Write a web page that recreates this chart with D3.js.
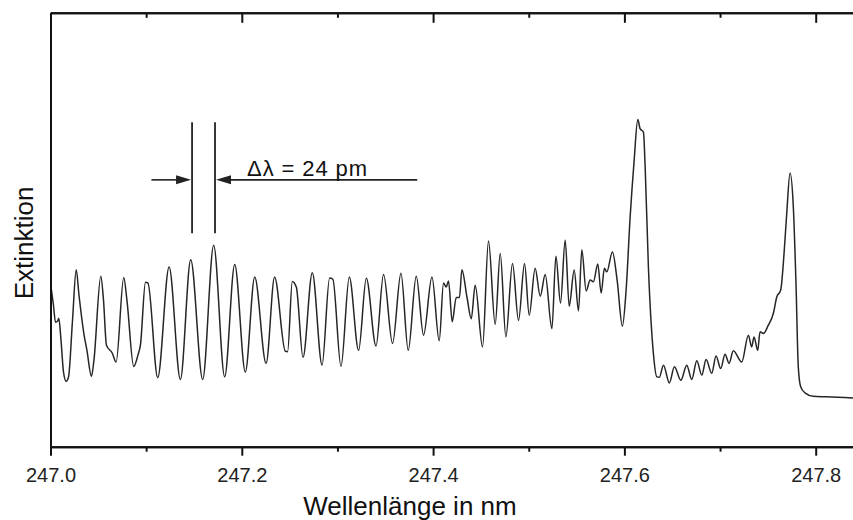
<!DOCTYPE html>
<html>
<head>
<meta charset="utf-8">
<script src="https://cdn.jsdelivr.net/npm/d3@7/dist/d3.min.js"></script>
<style>
  html, body { margin: 0; padding: 0; background: #fff; }
  svg { display: block; font-family: "Liberation Sans", Arial, Helvetica, sans-serif; }
</style>
</head>
<body>
<svg id="chart" width="853" height="520"></svg>
<script>
// Wavelength (nm) and extinction (arbitrary units)
const wavelength = [
  247.0003, 247.0031, 247.0052, 247.0073, 247.0087, 247.0110, 247.0136, 247.0164, 247.0188, 247.0230,
  247.0269, 247.0298, 247.0348, 247.0381, 247.0428, 247.0454, 247.0526, 247.0554, 247.0585, 247.0645,
  247.0686, 247.0766, 247.0799, 247.0870, 247.0914, 247.0940, 247.0993, 247.1019, 247.1121, 247.1240,
  247.1358, 247.1466, 247.1591, 247.1706, 247.1821, 247.1926, 247.2037, 247.2135, 247.2254, 247.2343,
  247.2455, 247.2479, 247.2528, 247.2570, 247.2640, 247.2737, 247.2839, 247.2918, 247.2952, 247.3037,
  247.3124, 247.3221, 247.3302, 247.3403, 247.3482, 247.3576, 247.3664, 247.3740, 247.3824, 247.3900,
  247.3988, 247.4064, 247.4109, 247.4137, 247.4161, 247.4200, 247.4242, 247.4276, 247.4301, 247.4354,
  247.4399, 247.4440, 247.4517, 247.4579, 247.4649, 247.4702, 247.4761, 247.4830, 247.4893, 247.4956,
  247.5005, 247.5067, 247.5120, 247.5172, 247.5242, 247.5284, 247.5332, 247.5381, 247.5423, 247.5475,
  247.5520, 247.5555, 247.5600, 247.5642, 247.5676, 247.5722, 247.5757, 247.5791, 247.5816, 247.5875,
  247.5924, 247.5979, 247.6018, 247.6060, 247.6102, 247.6140, 247.6164, 247.6199, 247.6217, 247.6251,
  247.6303, 247.6339, 247.6366, 247.6408, 247.6470, 247.6523, 247.6590, 247.6652, 247.6704, 247.6757,
  247.6809, 247.6854, 247.6913, 247.6958, 247.7007, 247.7052, 247.7094, 247.7139, 247.7227, 247.7296,
  247.7331, 247.7355, 247.7394, 247.7418, 247.7453, 247.7505, 247.7557, 247.7593, 247.7634, 247.7669,
  247.7697, 247.7732, 247.7766, 247.7794, 247.7818, 247.7843, 247.7888, 247.7975, 247.8115, 247.8390
];
const extinction = [
  37.2, 32.6, 28.7, 28.9, 29.6, 24.5, 17.2, 15.1, 16.0, 29.1,
  40.8, 34.9, 26.2, 22.2, 16.2, 19.9, 39.3, 33.8, 23.4, 21.6,
  19.5, 39.0, 33.8, 18.5, 21.1, 23.4, 37.9, 37.7, 15.9, 41.4,
  15.5, 43.1, 15.5, 46.4, 16.1, 42.0, 17.2, 39.1, 19.2, 39.1,
  22.0, 21.9, 38.1, 36.8, 20.6, 40.1, 18.8, 38.9, 38.6, 18.5,
  39.1, 22.2, 38.8, 23.2, 39.7, 23.8, 40.0, 22.2, 39.3, 25.7,
  39.1, 24.4, 37.7, 36.8, 38.2, 28.8, 34.4, 34.4, 40.8, 34.5,
  29.5, 37.2, 23.0, 47.4, 28.2, 44.5, 25.3, 42.2, 29.1, 42.2,
  30.3, 41.1, 34.7, 39.7, 27.2, 43.9, 33.1, 47.6, 32.4, 40.7,
  31.3, 45.4, 35.9, 38.4, 38.0, 42.1, 35.4, 41.1, 40.3, 44.9,
  38.4, 27.8, 36.1, 52.9, 66.0, 75.4, 73.3, 72.5, 64.5, 41.4,
  21.5, 16.1, 16.0, 18.8, 14.7, 18.4, 15.3, 18.8, 15.5, 19.8,
  16.5, 20.1, 16.9, 20.9, 18.0, 21.3, 19.2, 22.1, 19.5, 25.7,
  23.0, 25.3, 22.2, 26.5, 26.1, 28.0, 30.7, 34.5, 36.1, 44.5,
  53.7, 63.1, 55.3, 37.6, 18.4, 13.8, 12.4, 11.6, 11.5, 11.2
];
const majorTicks = [247.0, 247.2, 247.4, 247.6, 247.8];
const minorTicks = [247.1, 247.3, 247.5, 247.7];
const tickLabels = ["247.0", "247.2", "247.4", "247.6", "247.8"];
const xTitle = "Wellenlänge in nm";
const yTitle = "Extinktion";
// annotation: two adjacent maxima, spacing 24 pm
const markedPeaks = [247.148, 247.172];
const annotationText = "\u0394\u03BB = 24 pm";

const svg = d3.select("#chart");
const margin = { left: 50.5, top: 12.8, bottom: 446.7 };
const x = d3.scaleLinear().domain([247.0, 247.839]).range([margin.left, 853]);
const y = d3.scaleLinear().domain([0, 100]).range([margin.bottom, margin.top]);

svg.append("defs").append("clipPath").attr("id", "clip")
  .append("rect").attr("x", margin.left).attr("y", margin.top)
  .attr("width", 853 - margin.left).attr("height", margin.bottom - margin.top);

// spectrum line
const pts = wavelength.map((w, i) => [w, extinction[i]]);
const line = d3.line().x(d => x(d[0])).y(d => y(d[1])).curve(d3.curveMonotoneX);
svg.append("path").datum(pts)
  .attr("clip-path", "url(#clip)")
  .attr("d", line)
  .attr("fill", "none")
  .attr("stroke", "#262626")
  .attr("stroke-width", 1.5)
  .attr("stroke-linejoin", "round");

// axes
const fmt = d => tickLabels[majorTicks.indexOf(d)];
const gBottom = svg.append("g").attr("transform", `translate(0,${margin.bottom})`)
  .call(d3.axisBottom(x).tickValues(majorTicks).tickFormat(fmt).tickSizeInner(9).tickSizeOuter(0).tickPadding(12.5));
svg.append("g").attr("transform", `translate(0,${margin.bottom})`)
  .call(d3.axisBottom(x).tickValues(minorTicks).tickFormat("").tickSizeInner(5).tickSizeOuter(0));
svg.append("g").attr("transform", `translate(0,${margin.top})`)
  .call(d3.axisTop(x).tickValues(majorTicks).tickFormat("").tickSizeInner(-10).tickSizeOuter(0));
svg.append("g").attr("transform", `translate(0,${margin.top})`)
  .call(d3.axisTop(x).tickValues(minorTicks).tickFormat("").tickSizeInner(-5).tickSizeOuter(0));
svg.append("g").attr("transform", `translate(${margin.left},0)`)
  .call(d3.axisLeft(y).tickValues([]).tickSizeOuter(0));

svg.selectAll(".domain").attr("stroke", "#111").attr("stroke-width", 2);
svg.selectAll(".tick line").attr("stroke", "#111").attr("stroke-width", 2);
gBottom.selectAll("text").attr("font-size", 20).attr("fill", "#222")
  .attr("font-family", "'Liberation Sans', Arial, sans-serif");

// axis titles
svg.append("text").attr("x", 410).attr("y", 515).attr("text-anchor", "middle")
  .attr("font-size", 26).attr("fill", "#111").text(xTitle);
svg.append("text").attr("transform", "translate(32.5,243) rotate(-90)")
  .attr("text-anchor", "middle").attr("font-size", 26).attr("fill", "#111").text(yTitle);

// annotation
const ann = svg.append("g").attr("stroke", "#222").attr("fill", "#222");
markedPeaks.forEach(p => {
  ann.append("line").attr("x1", x(p)).attr("x2", x(p))
    .attr("y1", y(74.8)).attr("y2", y(49.2)).attr("stroke-width", 1.8);
});
const ay = y(61.5);
const head = 15, hw = 4.5;
const lTip = x(markedPeaks[0]) - 1, rTip = x(markedPeaks[1]) + 1;
ann.append("line").attr("x1", x(247.1055)).attr("x2", lTip - head + 1).attr("y1", ay).attr("y2", ay).attr("stroke-width", 1.6);
ann.append("path").attr("stroke", "none")
  .attr("d", `M${lTip},${ay} L${lTip - head},${ay - hw} L${lTip - head},${ay + hw} Z`);
ann.append("line").attr("x1", rTip + head - 1).attr("x2", x(247.3834)).attr("y1", ay).attr("y2", ay).attr("stroke-width", 1.6);
ann.append("path").attr("stroke", "none")
  .attr("d", `M${rTip},${ay} L${rTip + head},${ay - hw} L${rTip + head},${ay + hw} Z`);
svg.append("text").attr("x", x(247.2055)).attr("y", y(62.4))
  .attr("font-size", 22).attr("fill", "#111")
  .attr("textLength", 120).attr("lengthAdjust", "spacing")
  .text(annotationText);
</script>
</body>
</html>
